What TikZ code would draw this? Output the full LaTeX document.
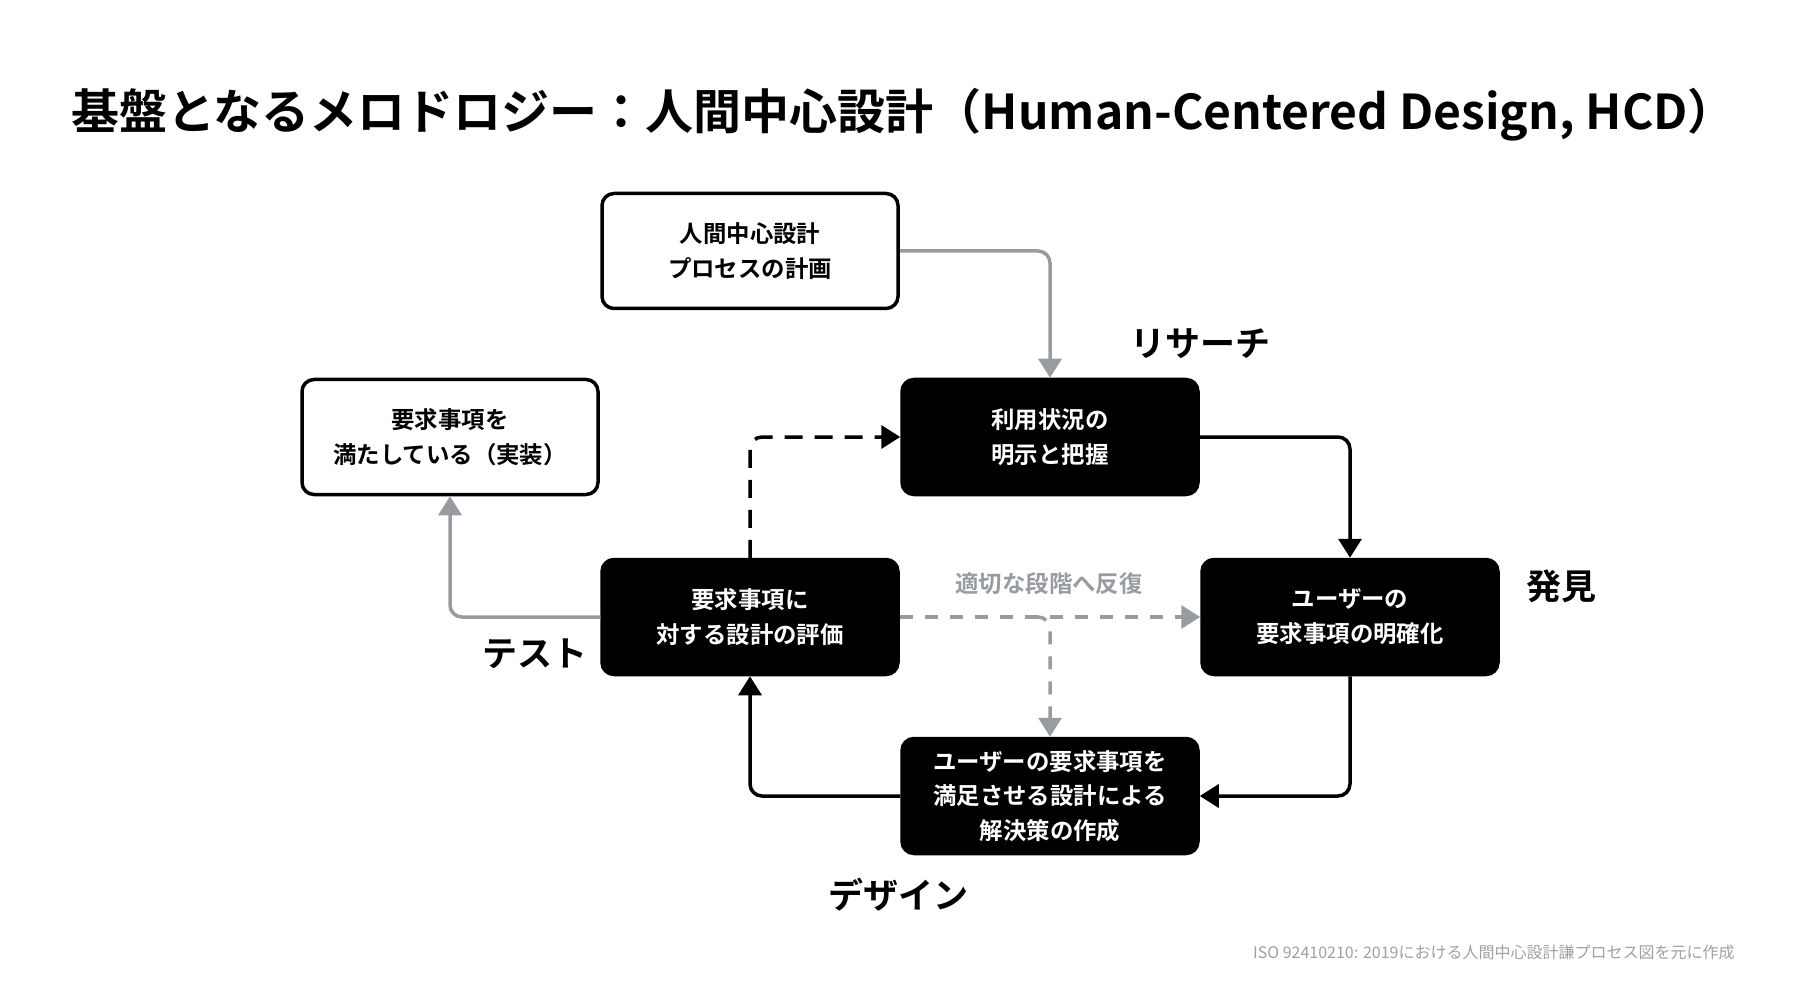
\documentclass[tikz,border=0pt]{standalone}
\usepackage{fontspec}
\setmainfont{Noto Sans CJK JP}[BoldFont={Noto Sans CJK JP Bold}]
\usetikzlibrary{positioning,arrows.meta}
\definecolor{arrowgray}{RGB}{152,156,160}
\definecolor{notegray}{RGB}{160,160,160}

\begin{document}
\begin{tikzpicture}[x=0.5pt,y=-0.5pt,line width=1.75pt,
    stageblk/.style={fill=black,draw=black,rounded corners=6pt,minimum width=148pt,minimum height=57.5pt,
      align=center,text=white,font=\bfseries\fontsize{11.7}{17.4}\selectfont},
    stagewht/.style={stageblk,fill=white,text=black},
    phase/.style={font=\bfseries\fontsize{17.5}{20}\selectfont},
    flowblk/.style={draw=black,rounded corners=6pt,-{Triangle[length=9.5pt,width=11.5pt]}},
    flowgray/.style={flowblk,draw=arrowgray},
    flowdash/.style={flowblk,dash pattern=on 9pt off 6pt},
    flowgdash/.style={flowgray,dash pattern=on 6.5pt off 6pt},
    ]
\useasboundingbox (0,0) rectangle (1800,1000);

% title
\node[anchor=west,font=\bfseries\fontsize{24}{28}\selectfont] (title) at (63,115)
  {基盤となるメロドロジー：人間中心設計（Human-Centered Design, HCD）};

% stages
\node[stagewht] (plan) at (750,251) {人間中心設計\\プロセスの計画};
\node[stageblk] (ctx) at (1050,437) {利用状況の\\明示と把握};
\node[stageblk] (req) at (1350,617) {ユーザーの\\要求事項の明確化};
\node[stageblk] (sol) at (1050,796) {ユーザーの要求事項を\\満足させる設計による\\解決策の作成};
\node[stageblk] (eval) at (750,617) {要求事項に\\対する設計の評価};
\node[stagewht] (done) at (450,437) {要求事項を\\満たしている（実装）};

% phase labels
\node[phase] (lres) at (1200,344) {リサーチ};
\node[phase] (ldis) at (1561,586) {発見};
\node[phase] (ltest) at (535,654) {テスト};
\node[phase] (ldes) at (898,895) {デザイン};
\node[font=\bfseries\fontsize{11.7}{14}\selectfont,text=arrowgray] (liter) at (1049,584) {適切な段階へ反復};

% flows
\draw[flowgray] (plan.east) -| (ctx.north);
\draw[flowblk] (ctx.east) -| (req.north);
\draw[flowblk] (req.south) |- (sol.east);
\draw[flowblk] (sol.west) -| (eval.south);
\draw[flowdash] (eval.north) |- (ctx.west);
\draw[flowgray] (eval.west) -| (done.south);
\draw[flowgdash] (eval.east) -- (req.west);
\coordinate (br) at (1034,617);
\draw[flowgdash] (br) -| (sol.north);

% source
\node[anchor=east,text=notegray,font=\fontsize{8}{10}\selectfont] (src) at (1743,952)
  {ISO 92410210: 2019における人間中心設計謙プロセス図を元に作成};
\end{tikzpicture}
\end{document}
